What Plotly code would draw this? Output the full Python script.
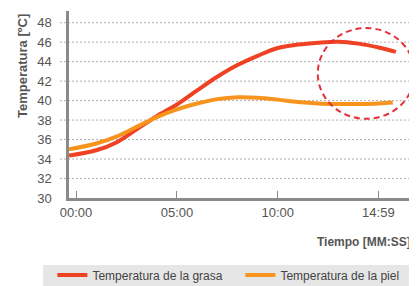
import plotly.graph_objects as go

# Data (time in minutes)
t_grasa = [-0.35, 1, 2, 3, 4, 5, 6, 7, 8, 9, 10, 11, 12, 13, 14, 15, 15.85]
temp_grasa = [34.35, 34.9, 35.7, 37.05, 38.4, 39.6, 41.05, 42.45, 43.65, 44.6, 45.4, 45.75, 45.95, 46.05, 45.85, 45.45, 45.0]
t_piel = [-0.35, 1, 2, 3, 4, 5, 6, 7, 8, 9, 10, 11, 12, 13, 14, 15, 15.7]
temp_piel = [35.0, 35.6, 36.3, 37.3, 38.3, 39.1, 39.7, 40.15, 40.35, 40.3, 40.1, 39.85, 39.7, 39.65, 39.65, 39.7, 39.8]

x_tickvals = [0, 5, 10, 14.983]
x_ticktext = ["00:00", "05:00", "10:00", "14:59"]
y_tickvals = [30, 32, 34, 36, 38, 40, 42, 44, 46, 48]

series_names = ["Temperatura de la grasa", "Temperatura de la piel"]
series_colors = ["#ef4123", "#f7941d"]

fig = go.Figure()
fig.add_trace(go.Scatter(x=t_grasa, y=temp_grasa, mode="lines", name=series_names[0],
                         line=dict(color=series_colors[0], width=4, shape="spline")))
fig.add_trace(go.Scatter(x=t_piel, y=temp_piel, mode="lines", name=series_names[1],
                         line=dict(color=series_colors[1], width=4, shape="spline")))

shapes = []
# legend background band
shapes.append(dict(type="rect", xref="paper", yref="paper", x0=-0.075, x1=1.01, y0=-0.358, y1=-0.48,
                   fillcolor="#e6e6e6", line=dict(width=0), layer="below"))
# dotted gridlines extending left of axis
for v in y_tickvals[1:]:
    shapes.append(dict(type="line", xref="paper", yref="y", x0=-0.026, x1=1, y0=v, y1=v,
                       line=dict(color="#b0b0b0", width=1, dash="2px,2px"), layer="below"))
# highlight circle
shapes.append(dict(type="circle", xref="x", yref="y", x0=11.98, x1=16.78, y0=38.13, y1=47.45,
                   line=dict(color="#e8303a", width=2, dash="6px,4px")))

fig.update_layout(
    width=409, height=278,
    margin=dict(l=61, r=2, t=3, b=88, autoexpand=False),
    paper_bgcolor="white", plot_bgcolor="white",
    font=dict(family="Liberation Sans, Arial, sans-serif", color="#555555", size=13),
    shapes=shapes,
    showlegend=True,
    legend=dict(orientation="h", x=-0.048, y=-0.334, xanchor="left", yanchor="top",
                bgcolor="rgba(0,0,0,0)", font=dict(size=12, color="#444444"),
                entrywidth=143, entrywidthmode="pixels"),
    annotations=[
        dict(text="<b>Temperatura [ºC]</b>", xref="paper", yref="paper", x=-0.133, y=0.706,
             textangle=-90, showarrow=False, font=dict(size=13, color="#555555"),
             xanchor="center", yanchor="middle"),
        dict(text="<b>Tiempo [MM:SS]</b>", xref="paper", yref="paper", x=0.994, y=-0.234,
             showarrow=False, font=dict(size=12, color="#555555"),
             xanchor="right", yanchor="middle"),
    ],
)
fig.update_xaxes(range=[-0.35, 16.8], tickvals=x_tickvals, ticktext=x_ticktext,
                 showgrid=False, zeroline=False, showline=True, linecolor="#8a8a8a", linewidth=2.5,
                 ticks="inside", ticklen=7, tickcolor="#8a8a8a", tickwidth=1,
                 ticklabelstandoff=1,
                 tickfont=dict(size=13, color="#555555"), automargin=False)
fig.update_yaxes(range=[30, 49.2], tickvals=y_tickvals, showgrid=False, zeroline=False,
                 showline=True, linecolor="#8a8a8a", linewidth=2.5, ticks="",
                 ticklabelstandoff=12, automargin=False,
                 tickfont=dict(size=13, color="#555555"))

fig.write_html("out.html")
